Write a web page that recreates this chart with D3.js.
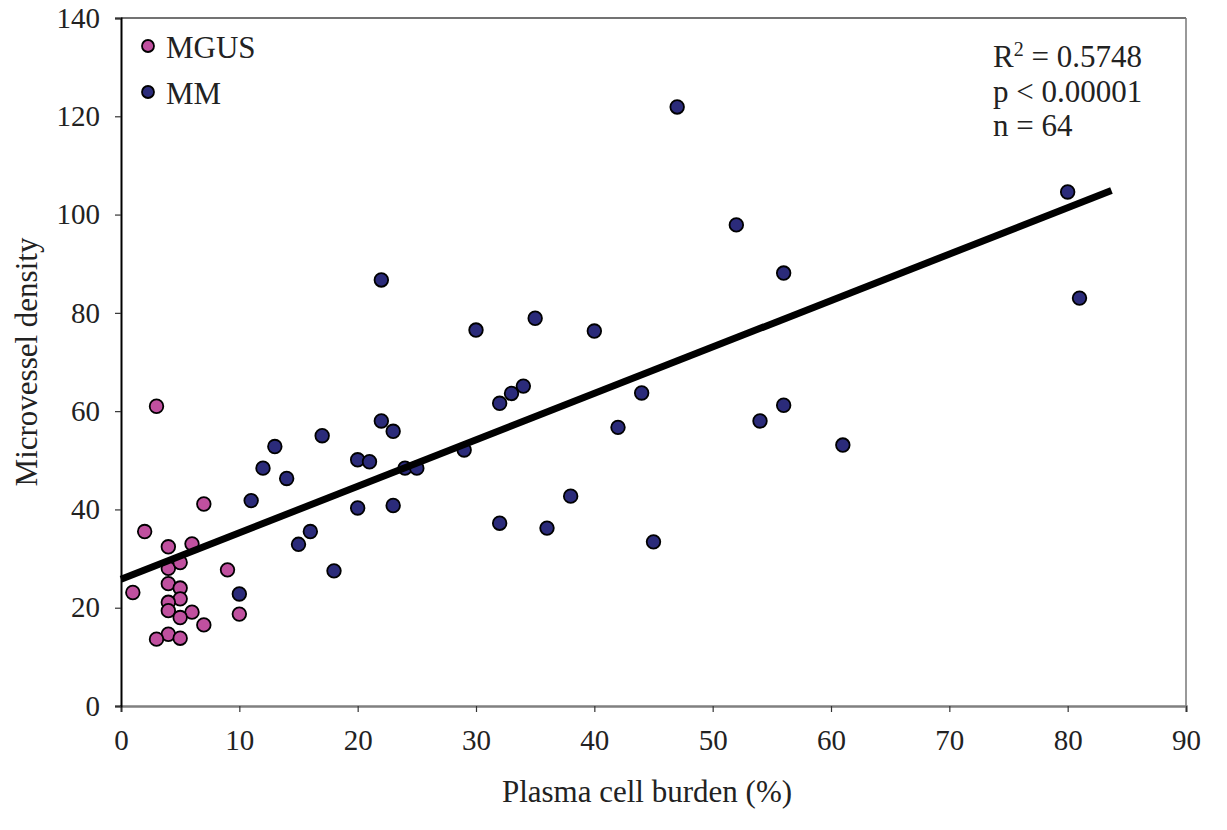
<!DOCTYPE html>
<html>
<head>
<meta charset="utf-8">
<script src="https://cdn.jsdelivr.net/npm/d3@7/dist/d3.min.js"></script>
<style>
  html, body { margin: 0; padding: 0; background: #fff; }
  svg { display: block; }
  text { font-family: "Liberation Serif", "DejaVu Serif", serif; fill: #222; }
</style>
</head>
<body>
<svg id="chart" width="1227" height="830"></svg>
<script>
// ---- data ----
const mgusX = [3, 2, 4, 6, 7, 4, 5, 9, 1, 4, 5, 5, 4, 4, 6, 5, 10, 7, 4, 3, 5];
const mgusY = [61.0, 35.5, 32.4, 33.0, 41.1, 28.0, 29.2, 27.7, 23.1, 24.9, 24.0, 21.8, 21.1, 19.4, 19.1, 18.0, 18.7, 16.5, 14.6, 13.6, 13.8];

const mmX = [10, 11, 12, 13, 14, 15, 16, 17, 18, 20, 20, 21, 22, 22, 23, 23, 24, 25, 29, 30,
             32, 32, 33, 34, 35, 36, 38, 40, 42, 44, 45, 47, 52, 54, 56, 56, 61, 80, 81];
const mmY = [22.8, 41.8, 48.4, 52.8, 46.3, 32.9, 35.5, 55.0, 27.5, 50.1, 40.3, 49.7, 86.7, 58.0, 55.9, 40.8, 48.4, 48.4, 52.1, 76.5,
             61.6, 37.2, 63.6, 65.1, 78.9, 36.2, 42.7, 76.3, 56.7, 63.7, 33.4, 121.9, 97.9, 58.0, 88.1, 61.2, 53.1, 104.6, 83.0];

const trendX = [0, 83.7];
const trendY = [25.8, 104.9];

const xTicks = [0, 10, 20, 30, 40, 50, 60, 70, 80, 90];
const yTicks = [0, 20, 40, 60, 80, 100, 120, 140];

const seriesNames = ["MGUS", "MM"];
const seriesColors = ["#c0509f", "#2b2b7a"];
const statLines = ["= 0.5748", "p < 0.00001", "n = 64"];

// ---- chart ----
const svg = d3.select("#chart");
const x = d3.scaleLinear().domain([0, 90]).range([121, 1186]);
const y = d3.scaleLinear().domain([0, 140]).range([706, 18]);

// frame (top / right)
svg.append("line").attr("x1", x(0)).attr("x2", x(90)).attr("y1", y(140)).attr("y2", y(140))
  .attr("stroke", "#444").attr("stroke-width", 1.5);
svg.append("line").attr("x1", x(90)).attr("x2", x(90)).attr("y1", y(140)).attr("y2", y(0))
  .attr("stroke", "#777").attr("stroke-width", 1.5);

// x axis
const xAxis = svg.append("g").attr("transform", `translate(0,${y(0)})`)
  .call(d3.axisBottom(x).tickValues(xTicks).tickSize(6).tickPadding(17).tickFormat(d3.format("d")));
xAxis.select(".domain").attr("stroke", "#808080").attr("stroke-width", 2.5);
xAxis.selectAll(".tick line").attr("stroke", "#333").attr("stroke-width", 1.2);
xAxis.selectAll("text").style("font-size", "29px").style("font-family", "Liberation Serif").attr("fill", "#222");

// y axis
const yAxis = svg.append("g").attr("transform", `translate(${x(0)},0)`)
  .call(d3.axisLeft(y).tickValues(yTicks).tickSize(6).tickPadding(15).tickFormat(d3.format("d")));
yAxis.select(".domain").attr("stroke", "#000").attr("stroke-width", 2);
yAxis.selectAll(".tick line").attr("stroke", "#333").attr("stroke-width", 1.2);
yAxis.selectAll("text").style("font-size", "29px").style("font-family", "Liberation Serif").attr("fill", "#222");

// axis titles
svg.append("text").attr("x", 647).attr("y", 802).attr("text-anchor", "middle")
  .style("font-size", "31px").text("Plasma cell burden (%)");
svg.append("text").attr("transform", `translate(37,${(y(0) + y(140)) / 2}) rotate(-90)`)
  .attr("text-anchor", "middle").style("font-size", "31px").text("Microvessel density");

// points
const mgus = mgusX.map((d, i) => ({ x: d, y: mgusY[i] }));
const mm = mmX.map((d, i) => ({ x: d, y: mmY[i] }));

function drawPts(data, color) {
  svg.append("g").selectAll("circle").data(data).join("circle")
    .attr("cx", d => x(d.x)).attr("cy", d => y(d.y)).attr("r", 6.8)
    .attr("fill", color).attr("stroke", "#000").attr("stroke-width", 1.8);
}
drawPts(mgus, seriesColors[0]);
drawPts(mm, seriesColors[1]);

// trend line
svg.append("line")
  .attr("x1", x(trendX[0])).attr("y1", y(trendY[0]))
  .attr("x2", x(trendX[1])).attr("y2", y(trendY[1]))
  .attr("stroke", "#000").attr("stroke-width", 7);

// legend
const leg = svg.append("g");
seriesNames.forEach((name, i) => {
  const cy = 46 + i * 46;
  leg.append("circle").attr("cx", 148).attr("cy", cy).attr("r", 6)
    .attr("fill", seriesColors[i]).attr("stroke", "#000").attr("stroke-width", 1.8);
  leg.append("text").attr("x", 166).attr("y", cy + 12).style("font-size", "31px").text(name);
});

// stats
const st = svg.append("g");
const r2 = st.append("text").attr("x", 993).attr("y", 67).style("font-size", "31px");
r2.append("tspan").text("R");
r2.append("tspan").attr("dy", -11).style("font-size", "20px").text("2");
r2.append("tspan").attr("dy", 11).text(" " + statLines[0]);
st.append("text").attr("x", 993).attr("y", 101.5).style("font-size", "31px").text(statLines[1]);
st.append("text").attr("x", 993).attr("y", 136).style("font-size", "31px").text(statLines[2]);
</script>
</body>
</html>
